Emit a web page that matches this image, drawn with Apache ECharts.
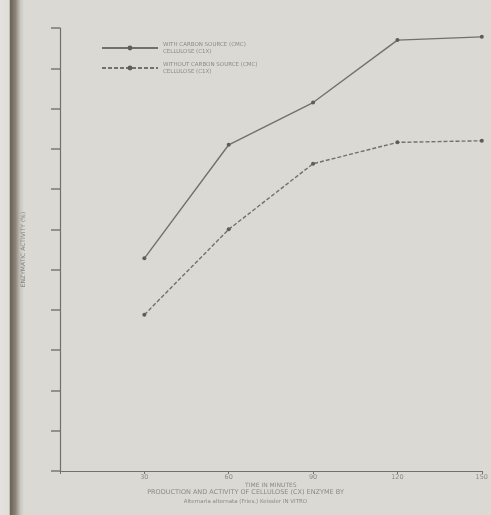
<!DOCTYPE html>
<html>
<head>
<meta charset="utf-8">
<script src="https://cdn.jsdelivr.net/npm/echarts@6/dist/echarts.min.js"></script>
<style>
  html, body { margin: 0; padding: 0; background: #dbd9d4; }
  #chart { width: 491px; height: 515px; }
</style>
</head>
<body>
<div id="chart"></div>
<script>
// Incubation time (minutes) on the x axis
const timeMinutes = [30, 60, 90, 120, 150];
const xTicks = [30, 60, 90, 120, 150];

// Enzyme activity readings
const withCarbon = [52.8, 81, 91.5, 107, 107.8];
const withoutCarbon = [38.8, 60, 76.3, 81.6, 82];

const seriesNames = [
  'WITH CARBON SOURCE (CMC)\nCELLULOSE (C1X)',
  'WITHOUT CARBON SOURCE (CMC)\nCELLULOSE (C1X)'
];

const toPairs = (xs, ys) => xs.map((x, i) => [x, ys[i]]);

const ink = '#72706c';
const faint = '#8c8a86';

const chart = echarts.init(document.getElementById('chart'), null, { renderer: 'canvas' });

chart.setOption({
  backgroundColor: '#dbd9d4',
  animation: false,
  grid: { left: 60, right: 3, top: 28, bottom: 44 },
  legend: {
    orient: 'vertical',
    left: 96,
    top: 36,
    itemWidth: 56,
    itemHeight: 6,
    itemGap: 6,
    textStyle: { fontSize: 5.5, color: faint, fontFamily: 'DejaVu Sans', lineHeight: 7 },
    data: seriesNames
  },
  xAxis: {
    type: 'value',
    min: 0,
    max: 150,
    interval: 30,
    axisLine: { lineStyle: { color: ink, width: 1.2 } },
    axisTick: { show: true, length: 3, lineStyle: { color: ink } },
    axisLabel: {
      fontSize: 6.5, color: faint, fontFamily: 'DejaVu Sans', margin: 3,
      formatter: v => (xTicks.includes(v) ? String(v) : '')
    },
    splitLine: { show: false },
    name: 'TIME IN MINUTES',
    nameLocation: 'middle',
    nameGap: 11,
    nameMoveOverlap: false,
    nameTextStyle: { fontSize: 6, color: faint, fontFamily: 'DejaVu Sans' }
  },
  yAxis: {
    type: 'value',
    min: 0,
    max: 110,
    interval: 10,
    axisLine: { show: true, lineStyle: { color: ink, width: 1.2 } },
    axisTick: { show: true, length: 9, lineStyle: { color: '#7a7875', width: 1.5 } },
    axisLabel: { show: false },
    splitLine: { show: false },
    name: 'ENZYMATIC ACTIVITY (%)',
    nameLocation: 'middle',
    nameGap: 34,
    nameRotate: 90,
    nameTextStyle: { fontSize: 6, color: '#858380', fontFamily: 'DejaVu Sans' }
  },
  graphic: [
    {
      type: 'rect',
      left: 0, top: 0, z: -10,
      shape: { width: 24, height: 515 },
      style: {
        fill: new echarts.graphic.LinearGradient(0, 0, 1, 0, [
          { offset: 0, color: '#e4e2de' },
          { offset: 0.38, color: '#e0ded9' },
          { offset: 0.44, color: '#6c6357' },
          { offset: 0.65, color: '#8d857a' },
          { offset: 0.85, color: '#c9c6c0' },
          { offset: 1, color: '#dbd9d4' }
        ])
      }
    },
    {
      type: 'text',
      left: 'center',
      top: 489,
      style: {
        text: 'PRODUCTION AND ACTIVITY OF CELLULOSE (CX) ENZYME BY',
        fontSize: 6.5, fill: faint, fontFamily: 'DejaVu Sans'
      }
    },
    {
      type: 'text',
      left: 'center',
      top: 499,
      style: {
        text: 'Alternaria alternata (Fries.) Keissler IN VITRO',
        fontSize: 5.5, fill: faint, fontFamily: 'DejaVu Sans'
      }
    }
  ],
  series: [
    {
      name: seriesNames[0],
      type: 'line',
      data: toPairs(timeMinutes, withCarbon),
      symbol: 'circle',
      symbolSize: 4,
      itemStyle: { color: '#5f5d5a' },
      lineStyle: { color: ink, width: 1.4, type: 'solid' }
    },
    {
      name: seriesNames[1],
      type: 'line',
      data: toPairs(timeMinutes, withoutCarbon),
      symbol: 'circle',
      symbolSize: 4,
      itemStyle: { color: '#5f5d5a' },
      lineStyle: { color: ink, width: 1.4, type: [4, 2] }
    }
  ]
});
</script>
</body>
</html>
